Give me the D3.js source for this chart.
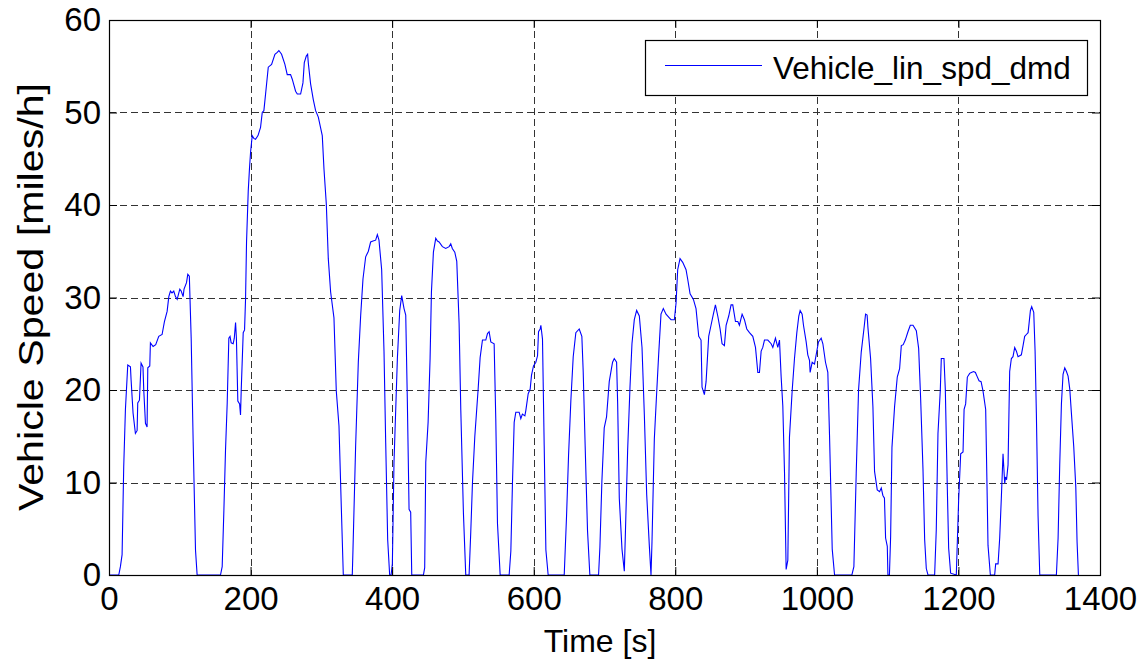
<!DOCTYPE html>
<html>
<head>
<meta charset="utf-8">
<script src="https://cdn.jsdelivr.net/npm/d3@7"></script>
<style>
  html, body { margin: 0; padding: 0; background: #fff; }
  svg { display: block; }
  text { font-family: "Liberation Sans", Arial, Helvetica, sans-serif; fill: #000; }
</style>
</head>
<body>
<svg id="chart" width="1148" height="664"></svg>
<script>
// ---- data ----
const timeS = [0,13.8,16.1,18.5,20.8,23.2,26.5,30.3,31.2,34,37.3,39.7,40.6,43,45.3,48,49.1,51.5,53.8,54.8,57.6,58.5,62.3,66,70.3,75,78.3,82.1,84.5,86.8,89,91.5,93.9,96.3,100,102,104.7,106,109.5,111.3,113.5,116.1,118.9,122.2,124.5,
157.5,159.9,162.3,164.6,167,169.3,171,172.6,175.4,177,178.8,180,182,184.5,185.8,186.8,189.6,191.5,192.9,194.3,196.7,198.5,200,202.3,204.6,207,210.5,214.1,216.5,218.8,221.2,225,229.7,234.4,237.7,240,243.8,248.5,251.8,256.5,258.9,263.6,266,270.7,274,275.9,278.7,280.6,281.5,284.8,288.6,291.9,295.7,301.3,303.7,307,309.8,313.1,317.8,321.1,324.9,328.2,331,
343.7,344.7,348.4,352.2,355.5,358.8,362.6,366.4,369.6,373,376.7,379.1,381.4,385.2,388.5,390.9,393.7,396.5,398.5,400.3,402.6,407.4,410.7,413.5,416.8,419.2,421.5,423.9,426.2,427.7,
444.2,446,447.5,450.8,453.6,455.5,458.3,461.6,464,466.3,471,475.7,480.5,482.8,485,488.5,491.3,494.6,497,500.7,504,
508.7,511.1,513.5,516.8,521.5,524.3,527.6,532.3,534.7,537,539.4,544.1,546.4,548.8,552.6,
565.3,567.7,570,572.4,574.7,579.4,581.8,584,587.5,588.9,592.2,595,596.9,599.7,603,605.4,606.8,609.1,610.1,612.4,614.8,617.2,620.4,
643.1,646.4,649.2,652.5,655.8,659.5,664.3,668,669.9,672.7,676,679.3,
691.6,693.5,696.3,699.6,702.9,706.7,710,711.4,713.8,717.1,718.6,720.9,724.7,728,729.4,732.7,736,738.8,742.1,745.4,749.2,753,756.3,759.6,763.3,765.7,767.1,770.4,773.7,776.5,779.8,783.1,786.9,791.6,794,798.7,801.1,803.4,806.7,810.5,815.2,817.5,820.9,825.6,829.3,833.1,836.4,837.8,841.1,843.5,847.2,850.5,853.8,856.7,860,863.3,866.1,869.4,871.8,875.5,878.8,881.2,885,888.3,890.6,894.4,897.7,901,904.8,909.5,913.3,916.6,918.9,921.3,923.6,926,930.7,935.4,937.8,941.5,944.8,947.2,949.5,951.9,954.3,956.6,959,961.3,965.1,968.4,971.7,974.5,976.4,979.2,981.1,984.9,987.2,989.6,990.5,993.4,996.7,999,1002.3,1006.1,1008.5,1012.2,1015.5,1017.9,1021.7,1025,
1049.5,1052.3,1055.6,1058.9,1062.7,1066.5,1068.8,1071,1072.1,1075.9,1079.2,1081.5,1085.3,1088.6,1091,1093.3,1095.5,1097.1,1099.5,1100.4,1102.5,1104.2,1106.1,1109.8,1113.6,1116.9,1119.3,1122,1124.9,1128.7,1132,1135.8,1140.5,1143.8,1146.6,1149.9,1152.3,1154.6,1157,
1166.4,1168.7,1171.1,1174.4,1175.8,1179.6,1181.5,1184.3,1186.2,1189,1197,1200.3,1203.2,1206.5,1208,1210.2,1212.6,1215.9,1218.2,1221.5,1224,1226.2,1229.1,1232,1234.7,1238.5,1240.4,1241.8,1245.1,1251.2,1252.6,1256,1258.3,1260.6,1263,1265.4,1266.5,1268,1270.1,1272.4,1274.8,1277.1,1279.5,1281.9,1284.2,1288.9,1291.3,1293.6,1296,1298.4,1299.8,1301.7,1303.5,1306.4,1308.3,1310.1,1312.5,1314.9,
1338.4,1340.8,1343.1,1345.5,1347.8,1350.2,1352.6,1354.9,1357.3,1359.6,1362.9,1365.8,1367.6,1369.5];

const speedMph = [0,0,0.9,2.2,11.7,17.9,22.7,22.5,21.1,17.5,15.3,15.6,18.6,18.9,22.9,22.5,20,16.4,16,22.4,22.6,25.1,24.7,24.9,25.8,26,27.4,28.5,30.1,30.7,30.5,30.7,30.1,29.8,30.9,30.7,30.1,30.9,31.6,32.5,32.3,25.6,14.4,2.7,0,
0,0.9,7,13.5,18.6,25.6,25.8,25.1,25,25.6,27.3,25.6,18.8,18.5,17.3,20,26.2,26.5,29.8,36,41.5,44,45.7,47.5,47.2,47.1,47.5,48.4,50,50.2,52,54.9,55.2,56.3,56.5,56.7,56.3,55.2,54.1,54.1,53.6,52.3,52,52,53.2,55.4,56.1,56.3,55.4,53.1,51.4,50.2,49.5,47.5,43.9,40.1,34.2,30.6,27.8,19.9,16.1,7.3,0,
0,2.8,13.9,23,28,32,34.4,35,36,36.1,36.2,36.8,36.2,33,24.2,14.3,3.8,0,0,1.2,12.1,23.4,28.6,30.2,28.8,28.1,18.7,7.1,6.8,0,
0,0.8,12.2,16.5,23.4,30.6,34.9,36.4,36.1,36,35.5,35.3,35.5,35.8,35.3,34.9,33.9,27.2,17.8,6.7,0,
0,4.7,10,15,20.1,23.5,25.4,25.4,26.1,26.3,25.2,25,16.9,5.6,0,
0,2.6,10,16.5,17.6,17.6,16.9,17.4,17.2,17.8,19.6,20.1,21.6,22.6,23,23.7,26.3,26.6,27,25.5,14,2.7,0,
0,6.4,12.9,18.9,23.6,26.2,26.6,25.8,22,13.9,4.8,0,
0,3,10.1,15.9,17.1,20.9,22.4,23,23.4,23,18.5,8.3,2.8,0.4,4.2,13.5,20.3,25,27.6,28.6,28,24.6,17.3,8.7,3.2,0,3.6,14.7,19.7,23.8,28.2,28.8,28.2,27.8,27.6,27.6,29.4,33,34.2,33.8,33,32,30.4,29.8,28.8,25.8,25.4,20.3,19.5,20.9,25.8,27,28.2,29.2,28,26.6,25,24.8,27,28,29.2,29.2,27.4,27.4,27,28.2,27.6,26.6,26.2,25.8,24.6,21.9,21.9,24.2,24.6,25.4,25.4,25,24.6,25.6,24.6,25.4,21.5,18.3,11.1,0.6,1.6,14.9,19.9,23.4,26.2,28,28.6,28.2,27,25.2,23.8,23.2,21.9,23,22.8,23.8,25.2,25.6,25,23,21.9,15.1,2.8,0,
0,0.9,11,20,24.1,26.6,28.2,28.1,26.8,23.4,18.2,11.2,9.2,9,9.4,8.6,8.3,4,3.1,0,0,4.1,13.8,18.2,21.4,22.3,24.8,24.9,25.4,26.3,27,27,26.4,24.5,19.1,11.5,3.8,0.7,0,
0,4.9,15.3,20,23.4,23.4,20,9.4,2.9,0.2,0,8.1,13.1,13.3,17.9,18.5,21.4,21.8,21.9,22,21.9,21.5,21,20.9,19.9,17.9,9.5,3.2,0,0,1.2,1.2,4,8.3,13.1,9.9,10.6,10.3,11.9,22,23.4,23.6,24.6,24.2,23.6,23.8,24.8,25.8,26,26.2,27.2,28.6,29,28.4,24.2,17.5,6.4,0,
0,4,11.9,18.5,21.7,22.4,22,21.5,20.1,17.5,13.9,9.5,3.6,0];

const xTicks = [0, 200, 400, 600, 800, 1000, 1200, 1400];
const yTicks = [0, 10, 20, 30, 40, 50, 60];
const xLabel = "Time [s]";
const yLabel = "Vehicle Speed [miles/h]";
const seriesName = "Vehicle_lin_spd_dmd";

// ---- layout ----
const svg = d3.select("#chart");
const L = 109, R = 1100, T = 20, B = 575;
const x = d3.scaleLinear().domain([0, 1400]).range([L, R]);
const y = d3.scaleLinear().domain([0, 60]).range([B, T]);
const TICK_FS = 33;

svg.append("rect").attr("width", 1148).attr("height", 664).attr("fill", "#fff");

// grid
const grid = svg.append("g").attr("stroke", "#333").attr("stroke-width", 1)
  .attr("stroke-dasharray", "7,4").attr("shape-rendering", "crispEdges");
grid.selectAll("line.gx").data(xTicks.slice(1, -1)).join("line")
  .attr("x1", d => Math.round(x(d)) + 0.5).attr("x2", d => Math.round(x(d)) + 0.5)
  .attr("y1", T).attr("y2", B);
grid.selectAll("line.gy").data(yTicks.slice(1, -1)).join("line")
  .attr("y1", d => Math.round(y(d)) + 0.5).attr("y2", d => Math.round(y(d)) + 0.5)
  .attr("x1", L).attr("x2", R);

// data line
const data = timeS.map((t, i) => [t, speedMph[i]]);
const line = d3.line().x(d => x(d[0])).y(d => y(d[1]));
svg.append("path").datum(data).attr("d", line)
  .attr("fill", "none").attr("stroke", "#0000ff").attr("stroke-width", 1.1)
  .attr("stroke-linejoin", "miter");

// axes
function styleAxis(g, showLabels) {
  g.select(".domain").remove();
  g.selectAll(".tick line").attr("stroke", "#000");
  g.selectAll(".tick text").attr("font-size", TICK_FS)
    .attr("font-family", "Liberation Sans, Arial, sans-serif")
    .style("display", showLabels ? null : "none");
}
svg.append("g").attr("transform", `translate(0,${B})`)
  .call(d3.axisBottom(x).tickValues(xTicks).tickSizeInner(-8).tickSizeOuter(0).tickPadding(12).tickFormat(d3.format("d")))
  .call(g => styleAxis(g, true));
svg.append("g").attr("transform", `translate(0,${T})`)
  .call(d3.axisTop(x).tickValues(xTicks).tickSizeInner(-8).tickSizeOuter(0))
  .call(g => styleAxis(g, false));
svg.append("g").attr("transform", `translate(${L},0)`)
  .call(d3.axisLeft(y).tickValues(yTicks).tickSizeInner(-8).tickSizeOuter(0).tickPadding(8).tickFormat(d3.format("d")))
  .call(g => styleAxis(g, true));
svg.append("g").attr("transform", `translate(${R},0)`)
  .call(d3.axisRight(y).tickValues(yTicks).tickSizeInner(-8).tickSizeOuter(0))
  .call(g => styleAxis(g, false));

// box
svg.append("rect").attr("x", L + 0.5).attr("y", T + 0.5).attr("width", R - L).attr("height", B - T)
  .attr("fill", "none").attr("stroke", "#000").attr("stroke-width", 1.2);

// axis labels
svg.append("text").attr("x", 600).attr("y", 652).attr("text-anchor", "middle")
  .attr("font-size", 32).text(xLabel);
svg.append("text").attr("transform", `translate(43,297) rotate(-90)`)
  .attr("text-anchor", "middle").attr("font-size", 35)
  .attr("textLength", 428).attr("lengthAdjust", "spacingAndGlyphs").text(yLabel);

// legend
const lg = svg.append("g");
lg.append("rect").attr("x", 645.5).attr("y", 40.5).attr("width", 442).attr("height", 55)
  .attr("fill", "#fff").attr("stroke", "#000").attr("stroke-width", 1.2);
lg.append("line").attr("x1", 665).attr("x2", 762).attr("y1", 65.5).attr("y2", 65.5)
  .attr("stroke", "#0000ff").attr("stroke-width", 1);
lg.append("text").attr("x", 773).attr("y", 79).attr("font-size", 31.5).text(seriesName);
</script>
</body>
</html>
